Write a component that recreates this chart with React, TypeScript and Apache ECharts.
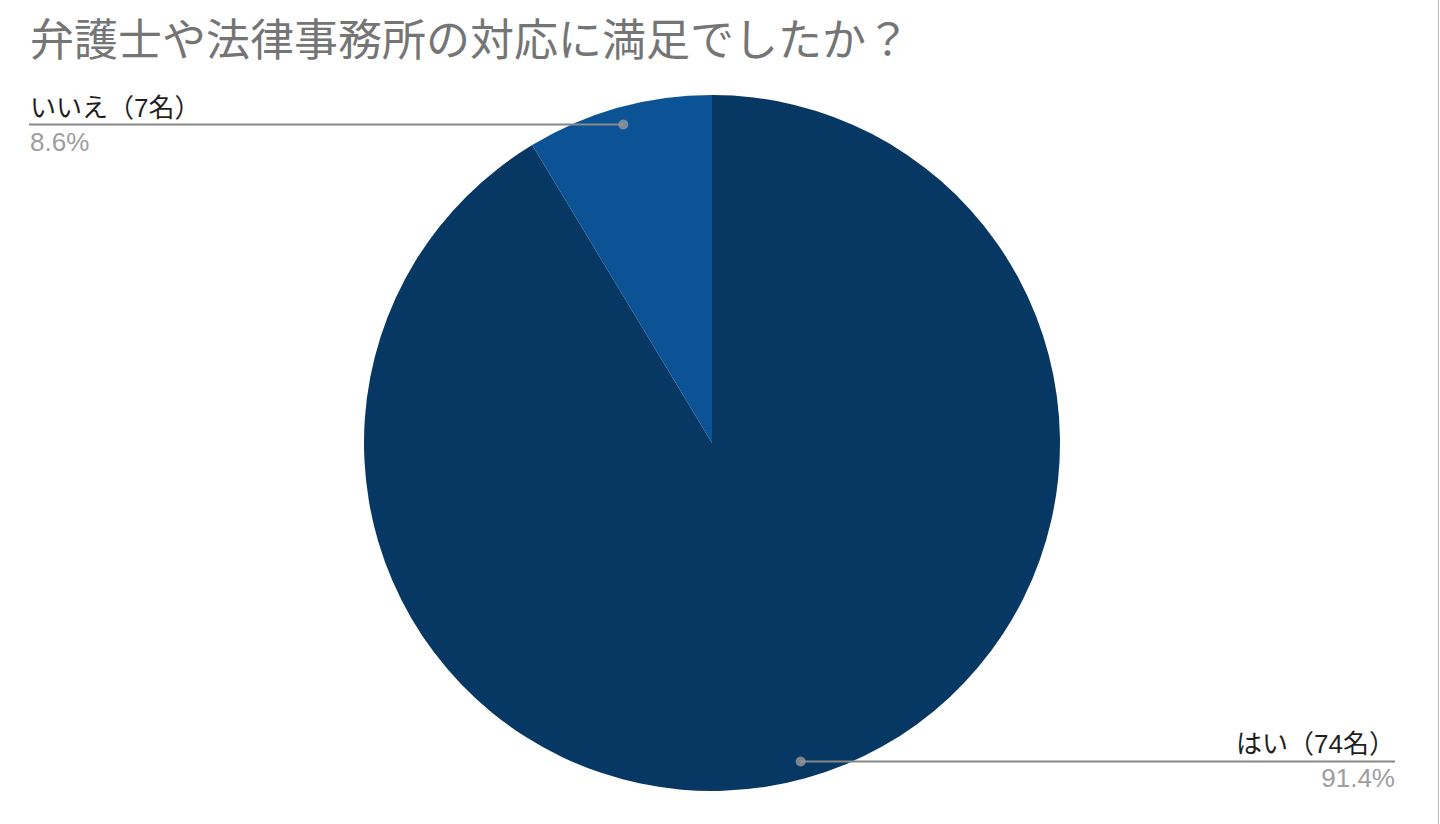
import React, { useEffect, useRef } from "react";
import * as echarts from "echarts";

const TITLE = "弁護士や法律事務所の対応に満足でしたか？";
const categories = ["はい", "いいえ"];
const counts = [74, 7];
const colors = ["#073763", "#0b5394"];

export default function App() {
  const ref = useRef<HTMLDivElement>(null);
  useEffect(() => {
    if (!ref.current) return;
    const chart = echarts.init(ref.current, null, { renderer: "svg" });
    const total = counts.reduce((a, b) => a + b, 0);
    const mids: number[] = [];
    let acc = 0;
    counts.forEach((v) => {
      mids.push(acc + v / 2);
      acc += v;
    });
    const center = [712, 443];
    const R = 348;
    const EDGE_L = 29;
    const EDGE_R = 1395;
    const font = "'Liberation Sans', 'Noto Sans CJK JP', sans-serif";
    const pieData = categories.map((name, i) => ({
      name,
      value: counts[i],
      itemStyle: { color: colors[i] },
    }));
    chart.setOption({
      animation: false,
      backgroundColor: "#ffffff",
      title: {
        text: TITLE,
        left: 30,
        top: 15,
        padding: 0,
        textStyle: {
          fontFamily: "'Noto Sans CJK JP', sans-serif",
          fontSize: 44,
          fontWeight: "normal",
          color: "#757575",
        },
      },
      polar: { center, radius: R },
      angleAxis: {
        type: "value",
        min: 0,
        max: total,
        startAngle: 90,
        clockwise: true,
        show: false,
      },
      radiusAxis: { type: "value", min: 0, max: 1, show: false },
      series: [
        {
          type: "pie",
          z: 2,
          center,
          radius: R,
          startAngle: 90,
          clockwise: true,
          silent: true,
          label: { show: false },
          labelLine: { show: false },
          data: pieData,
        },
        {
          type: "pie",
          z: 4,
          center,
          radius: R * 0.95,
          startAngle: 90,
          clockwise: true,
          silent: true,
          percentPrecision: 1,
          itemStyle: { color: "rgba(0,0,0,0)" },
          label: {
            show: true,
            position: "outside",
            formatter: "{n|{b}（{c}名）}\n{p|{d}%}",
            rich: {
              n: {
                fontFamily: font,
                fontSize: 26,
                color: "#1f1f1f",
                lineHeight: 34,
              },
              p: {
                fontFamily: font,
                fontSize: 26,
                color: "#9e9e9e",
                lineHeight: 34,
              },
            },
          },
          labelLine: {
            show: true,
            length: 0,
            length2: 10,
            lineStyle: { color: "#888888", width: 2 },
          },
          labelLayout: (params: any) => {
            const pts = params.labelLinePoints;
            if (!pts) return {};
            const p = pts[0];
            const left = pts[2][0] < p[0];
            const ex = left ? EDGE_L : EDGE_R;
            return {
              x: left ? ex + 1 : ex,
              y: p[1],
              align: left ? "left" : "right",
              verticalAlign: "middle",
              labelLinePoints: [
                [p[0], p[1]],
                [p[0], p[1]],
                [ex, p[1]],
              ],
            };
          },
          data: pieData.map((d) => ({ name: d.name, value: d.value })),
        },
        {
          type: "scatter",
          coordinateSystem: "polar",
          silent: true,
          z: 6,
          symbol: "circle",
          symbolSize: 10,
          itemStyle: { color: "#9a9a9a" },
          data: mids.map((m) => [0.95, m]),
        },
      ],
    });
    return () => chart.dispose();
  }, []);
  return (
    <div
      style={{
        position: "absolute",
        left: 0,
        top: 0,
        width: 1440,
        height: 824,
        background: "#ffffff",
      }}
    >
      <div
        ref={ref}
        style={{
          width: 1438,
          height: 824,
          borderRight: "1px solid #bdbdbd",
        }}
      />
    </div>
  );
}
